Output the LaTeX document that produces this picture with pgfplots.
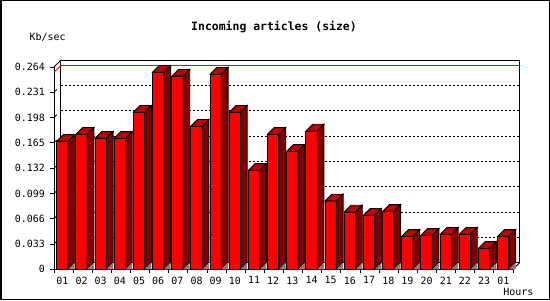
\documentclass[border=0pt]{standalone}
\usepackage{fontspec}
\setmainfont{DejaVu Sans Mono}
\usepackage{pgfplots}
\usepackage{pgfplotstable}
\pgfplotsset{compat=1.18}
\definecolor{barfront}{RGB}{255,0,0}
\definecolor{bartop}{RGB}{192,0,0}
\definecolor{barside}{RGB}{128,0,0}
\definecolor{floorgray}{RGB}{128,128,128}

\pgfplotstableread{
x v
1 0.1671
2 0.1762
3 0.1710
4 0.1710
5 0.2050
6 0.2572
7 0.2520
8 0.1867
9 0.2546
10 0.2050
11 0.1292
12 0.1762
13 0.1540
14 0.1805
15 0.0892
16 0.0748
17 0.0705
18 0.0757
19 0.0431
20 0.0444
21 0.0457
22 0.0457
23 0.0274
24 0.0431
}\datatable

\pgfdeclareplotmark{bar3d}{%
 \pgfmathparse{\vv*766.29}\let\h\pgfmathresult
 \pgfsetlinewidth{0.9bp}\pgfsetstrokecolor{black}%
 \pgfsetfillcolor{bartop}%
 \pgfpathmoveto{\pgfpoint{-5.65bp}{0bp}}%
 \pgfpathlineto{\pgfpoint{5.65bp}{0bp}}%
 \pgfpathlineto{\pgfpoint{12.35bp}{6.7bp}}%
 \pgfpathlineto{\pgfpoint{1.05bp}{6.7bp}}%
 \pgfpathclose
 \pgfusepath{fill,stroke}%
 \pgfsetfillcolor{barside}%
 \pgfpathmoveto{\pgfpoint{5.65bp}{0bp}}%
 \pgfpathlineto{\pgfpoint{12.35bp}{6.7bp}}%
 \pgfpathlineto{\pgfpoint{12.35bp}{6.7bp-\h bp}}%
 \pgfpathlineto{\pgfpoint{5.65bp}{-\h bp}}%
 \pgfpathclose
 \pgfusepath{fill,stroke}%
 \pgfsetfillcolor{floorgray}%
 \pgfpathmoveto{\pgfpoint{5.65bp}{-\h bp}}%
 \pgfpathlineto{\pgfpoint{12.35bp}{6.7bp-\h bp}}%
 \pgfpathlineto{\pgfpoint{12.35bp}{-\h bp}}%
 \pgfpathclose
 \pgfusepath{fill}%
}

\begin{document}
\begin{tikzpicture}[x=1bp,y=1bp]
\path[use as bounding box] (0,0) rectangle (550,300);
\draw[line width=1.5bp] (0.75,0.75) rectangle (549.25,299.25);
\node[font=\fontsize{11.5}{13}\selectfont\bfseries, inner sep=0pt] at (274,273.3) {Incoming articles (size)};
\node[font=\fontsize{10}{12}\selectfont, anchor=west, inner sep=0pt] at (29.5,263.3) {Kb/sec};
\node[font=\fontsize{10}{12}\selectfont, anchor=east, inner sep=0pt] at (533.5,7.7) {Hours};
\begin{axis}[
 at={(54bp,30.7bp)}, anchor=south west,
 scale only axis, width=459bp, height=202.3bp,
 xmin=0.564, xmax=24.508, ymin=0, ymax=0.264,
 clip=false,
 axis lines=left, axis line style={-, line width=0.9bp},
 tick align=outside, major tick length=4bp,
 tick style={black, line width=0.9bp},
 tick label style={font=\fontsize{10}{12}\selectfont},
 ytick={0,0.033,0.066,0.099,0.132,0.165,0.198,0.231,0.264},
 yticklabels={0,0.033,0.066,0.099,0.132,0.165,0.198,0.231,0.264},
 yticklabel style={anchor=east, inner sep=0pt, xshift=-5bp},
 xtick={0.564,1.5617,2.5593,3.5570,4.5546,5.5523,6.5499,7.5476,8.5452,9.5429,10.5405,11.5382,12.5358,13.5335,14.5311,15.5288,16.5264,17.5241,18.5217,19.5194,20.5170,21.5147,22.5123,23.5100,24.5076},
 xticklabels={},
 extra x ticks={1,2,3,4,5,6,7,8,9,10,11,12,13,14,15,16,17,18,19,20,21,22,23,24},
 extra x tick labels={01,02,03,04,05,06,07,08,09,10,11,12,13,14,15,16,17,18,19,20,21,22,23,01},
 extra x tick style={major tick length=0pt},
 xticklabel style={anchor=north, inner sep=0pt, yshift=-7.2bp},
]
 \draw[line width=0.9bp] ([shift={(6.7bp,6.7bp)}]axis cs:0.564,0) rectangle ([shift={(6.7bp,6.7bp)}]axis cs:24.508,0.264);
 \draw[line width=0.9bp] (axis cs:0.564,0.264) -- ++(6.7bp,6.7bp);
 \draw[line width=0.9bp] (axis cs:24.508,0) -- ++(6.7bp,6.7bp);
 \pgfplotsinvokeforeach{0.033,0.066,0.099,0.132,0.165,0.198,0.231}{
  \draw[line width=0.9bp, dash pattern=on 2bp off 2bp] ([shift={(6.7bp,6.7bp)}]axis cs:0.564,#1) -- ([shift={(6.7bp,6.7bp)}]axis cs:24.508,#1);
  \draw[line width=0.9bp] (axis cs:0.564,#1) ++(0.8bp,0.8bp) -- ++(2bp,2bp);
 }
 \draw[red, line width=0.9bp] ([shift={(6.7bp,6.7bp)}]axis cs:0.564,0.2572) -- ([shift={(6.7bp,6.7bp)}]axis cs:24.508,0.2572);
 \draw[red, line width=0.9bp] (axis cs:0.564,0.2572) -- ++(6.7bp,6.7bp);
\addplot[ybar, bar width=11.3bp, bar shift=0pt, fill=barfront, draw=black, line width=0.9bp] table[x=x,y=v]{\datatable};
\addplot[only marks, mark=bar3d, visualization depends on={rawy \as \vv}] table[x=x,y=v]{\datatable};
\end{axis}
\end{tikzpicture}
\end{document}
